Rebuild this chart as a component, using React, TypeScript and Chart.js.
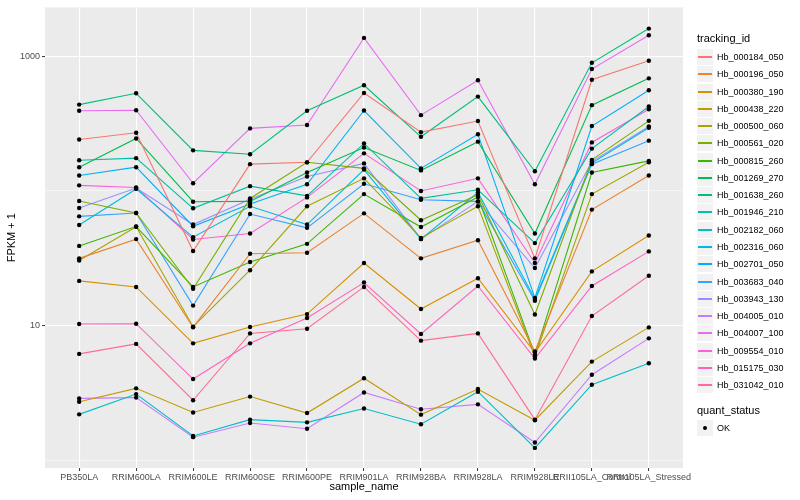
import React, { useEffect, useRef } from 'react';
import { Chart, registerables } from 'chart.js';

Chart.register(...registerables);

const categories = [
  'PB350LA', 'RRIM600LA', 'RRIM600LE', 'RRIM600SE', 'RRIM600PE', 'RRIM901LA',
  'RRIM928BA', 'RRIM928LA', 'RRIM928LE', 'RRII105LA_Control', 'RRII105LA_Stressed',
];

const trackingIds = [
  'Hb_000184_050', 'Hb_000196_050', 'Hb_000380_190', 'Hb_000438_220', 'Hb_000500_060',
  'Hb_000561_020', 'Hb_000815_260', 'Hb_001269_270', 'Hb_001638_260', 'Hb_001946_210',
  'Hb_002182_060', 'Hb_002316_060', 'Hb_002701_050', 'Hb_003683_040', 'Hb_003943_130',
  'Hb_004005_010', 'Hb_004007_100', 'Hb_009554_010', 'Hb_015175_030', 'Hb_031042_010',
];

const seriesColors = [
  '#F8766D', '#EA8331', '#D89000', '#C09B00', '#A3A500', '#7CAE00', '#39B600', '#00BB4E',
  '#00BF7D', '#00C1A3', '#00BFC4', '#00BAE0', '#00B0F6', '#35A2FF', '#9590FF', '#C77CFF',
  '#E76BF3', '#FA62DB', '#FF62BC', '#FF6C91',
];

// FPKM + 1 per sample, in category order
const Hb_000184_050 = [241, 270, 35.8, 158, 163, 533, 273, 330, 31.6, 668, 923];
const Hb_000196_050 = [31.6, 43.9, 9.75, 34.2, 34.8, 68.2, 31.6, 43.1, 6.43, 72.7, 130];
const Hb_000380_190 = [21.5, 19.4, 7.4, 9.78, 12.2, 29.2, 13.3, 22.5, 6.32, 25.3, 46.7];
const Hb_000438_220 = [2.73, 3.43, 2.27, 2.98, 2.25, 4.08, 2.19, 3.39, 1.99, 5.42, 9.72];
const Hb_000500_060 = [30.5, 54.2, 9.83, 25.8, 76.9, 124, 44.8, 76.9, 5.9, 94.7, 163];
const Hb_000561_020 = [84.1, 68.6, 18.8, 88.0, 163, 147, 60.6, 93.8, 12.1, 170, 331];
const Hb_000815_260 = [39.1, 54.4, 19.4, 29.7, 40.5, 94.7, 54.0, 90.0, 6.11, 137, 167];
const Hb_001269_270 = [150, 245, 83.2, 83.6, 137, 210, 142, 232, 48.3, 433, 684];
const Hb_001638_260 = [437, 530, 200, 187, 393, 608, 252, 501, 140, 892, 1601];
const Hb_001946_210 = [169, 175, 74.3, 108.5, 91.9, 225, 88.0, 102, 41.0, 206, 423];
const Hb_002182_060 = [2.2, 3.11, 1.52, 2.01, 1.92, 2.43, 1.86, 3.24, 1.24, 3.65, 5.27];
const Hb_002316_060 = [55.9, 103.5, 45.4, 76.9, 56.3, 144, 43.9, 97.5, 15.8, 161, 294];
const Hb_002701_050 = [130, 150, 54.7, 79.9, 112, 395, 147, 263, 16.1, 303, 558];
const Hb_003683_040 = [64.8, 68.6, 14.1, 67.4, 53.2, 113, 86.1, 83.6, 15.3, 158, 236];
const Hb_003943_130 = [74.7, 105, 56.3, 86.6, 128, 160, 43.9, 83.6, 26.8, 165, 301];
const Hb_004005_010 = [2.89, 2.93, 1.49, 1.9, 1.72, 3.2, 2.4, 2.61, 1.36, 4.33, 8.06];
const Hb_004007_100 = [393, 397, 114, 291, 308, 1365, 365, 662, 112, 802, 1429];
const Hb_009554_010 = [110, 106, 43.6, 48.3, 89.5, 190, 100, 124, 29.2, 229, 404];
const Hb_015175_030 = [10.3, 10.35, 4.02, 7.4, 11.4, 20.9, 8.68, 19.7, 5.71, 19.7, 35.6];
const Hb_031042_010 = [6.18, 7.33, 2.8, 8.77, 9.5, 19.4, 7.75, 8.77, 2.01, 11.8, 23.5];

const seriesValues = [
  Hb_000184_050, Hb_000196_050, Hb_000380_190, Hb_000438_220, Hb_000500_060,
  Hb_000561_020, Hb_000815_260, Hb_001269_270, Hb_001638_260, Hb_001946_210,
  Hb_002182_060, Hb_002316_060, Hb_002701_050, Hb_003683_040, Hb_003943_130,
  Hb_004005_010, Hb_004007_100, Hb_009554_010, Hb_015175_030, Hb_031042_010,
];

const yTickValues = [1, 10, 100, 1000];
const yLabelled = [10, 1000];
const statusLabels = ['OK'];

const FONT = '"Liberation Sans", Arial, Helvetica, sans-serif';

const panelBg = {
  id: 'panelBg',
  beforeDraw(chart: any) {
    const { ctx, chartArea: a } = chart;
    ctx.save();
    ctx.fillStyle = '#FFFFFF';
    ctx.fillRect(0, 0, chart.width, chart.height);
    ctx.fillStyle = '#EBEBEB';
    ctx.fillRect(a.left, a.top, a.right - a.left, a.bottom - a.top);
    ctx.restore();
  },
};

export default function App() {
  const ref = useRef<HTMLCanvasElement>(null);

  useEffect(() => {
    if (!ref.current) return;
    const lineSets = seriesValues.map((vals, si) => ({
      type: 'line' as const,
      label: trackingIds[si],
      data: vals.map((v, i) => ({ x: i, y: v })),
      borderColor: seriesColors[si],
      backgroundColor: seriesColors[si],
      borderWidth: 1.1,
      pointRadius: 0,
      tension: 0,
      fill: false,
      order: 1,
    }));
    const pointSet = {
      type: 'scatter' as const,
      label: 'OK',
      data: seriesValues.flatMap((vals) => vals.map((v, i) => ({ x: i, y: v }))),
      backgroundColor: '#000000',
      borderColor: '#000000',
      borderWidth: 0,
      pointRadius: 2.2,
      showLine: false,
      order: 0,
    };

    const isMajor = (v: number) => yLabelled.includes(v);

    const chart = new Chart(ref.current, {
      type: 'line',
      data: { datasets: [...lineSets, pointSet] as any },
      plugins: [panelBg],
      options: {
        responsive: false,
        animation: false,
        events: [],
        layout: { padding: { top: 5, right: 117, left: 0, bottom: 0 } },
        plugins: { legend: { display: false }, tooltip: { enabled: false } },
        scales: {
          x: {
            type: 'linear',
            min: -0.6,
            max: 10.6,
            afterBuildTicks: (axis: any) => {
              axis.ticks = categories.map((_, i) => ({ value: i }));
            },
            afterFit: (axis: any) => {
              axis.height = 32;
            },
            border: { display: false },
            grid: {
              color: '#FFFFFF',
              lineWidth: 1.1,
              tickColor: '#333333',
              tickLength: 3,
              tickWidth: 1,
            },
            ticks: {
              autoSkip: false,
              maxRotation: 0,
              minRotation: 0,
              padding: 1,
              color: '#4D4D4D',
              font: { family: FONT, size: 9 },
              callback: (v: any) => categories[Number(v)] ?? '',
            },
            title: {
              display: true,
              text: 'sample_name',
              color: '#000000',
              font: { family: FONT, size: 11 },
              padding: { top: 0, bottom: 6 },
            },
          },
          y: {
            type: 'logarithmic',
            min: 0.88,
            max: 2299,
            afterBuildTicks: (axis: any) => {
              axis.ticks = yTickValues.map((v) => ({ value: v, major: isMajor(v) }));
            },
            afterFit: (axis: any) => {
              axis.width = 45;
            },
            border: { display: false },
            grid: {
              color: '#FFFFFF',
              lineWidth: (ctx: any) => (ctx.tick && isMajor(ctx.tick.value) ? 1.1 : 0.55),
              tickColor: (ctx: any) => (ctx.tick && isMajor(ctx.tick.value) ? '#333333' : 'rgba(0,0,0,0)'),
              tickLength: 3,
              tickWidth: 1,
            },
            ticks: {
              padding: 2,
              color: '#4D4D4D',
              font: { family: FONT, size: 9 },
              callback: (v: any) => (isMajor(Number(v)) ? String(v) : ''),
            },
            title: {
              display: true,
              text: 'FPKM + 1',
              color: '#000000',
              font: { family: FONT, size: 11 },
              padding: { top: 5, bottom: 0 },
            },
          },
        },
      } as any,
    });
    return () => chart.destroy();
  }, []);

  const rowH = 17.27;
  const firstCenter = 57;

  return (
    <div style={{ position: 'fixed', left: 0, top: 0, width: 800, height: 500, background: '#fff', fontFamily: FONT }}>
      <canvas ref={ref} width={800} height={500} style={{ position: 'absolute', left: 0, top: 0 }} />
      <div style={{ position: 'absolute', left: 697, top: 32, fontSize: 11, lineHeight: '13px', color: '#000' }}>
        tracking_id
      </div>
      {trackingIds.map((id, i) => {
        const cy = Math.round(firstCenter + i * rowH);
        return (
          <div key={id}>
            <div
              style={{
                position: 'absolute', left: 697, top: cy - 8, width: 16, height: 16,
                background: '#F2F2F2',
              }}
            >
              <div style={{ position: 'absolute', left: 1, width: 14, top: 7, height: 2, background: seriesColors[i] }} />
            </div>
            <div
              style={{
                position: 'absolute', left: 717, top: cy - 5, fontSize: 9, lineHeight: '11px', color: '#000',
                whiteSpace: 'nowrap',
              }}
            >
              {id}
            </div>
          </div>
        );
      })}
      <div style={{ position: 'absolute', left: 697, top: 404, fontSize: 11, lineHeight: '13px', color: '#000' }}>
        quant_status
      </div>
      {statusLabels.map((s, i) => {
        const cy = 428 + i * 17;
        return (
          <div key={s}>
            <div style={{ position: 'absolute', left: 697, top: cy - 8, width: 16, height: 16, background: '#F2F2F2' }}>
              <div style={{ position: 'absolute', left: 6, top: 6, width: 4, height: 4, borderRadius: 2, background: '#000' }} />
            </div>
            <div style={{ position: 'absolute', left: 717, top: cy - 5, fontSize: 9, lineHeight: '11px', color: '#000' }}>
              {s}
            </div>
          </div>
        );
      })}
    </div>
  );
}
